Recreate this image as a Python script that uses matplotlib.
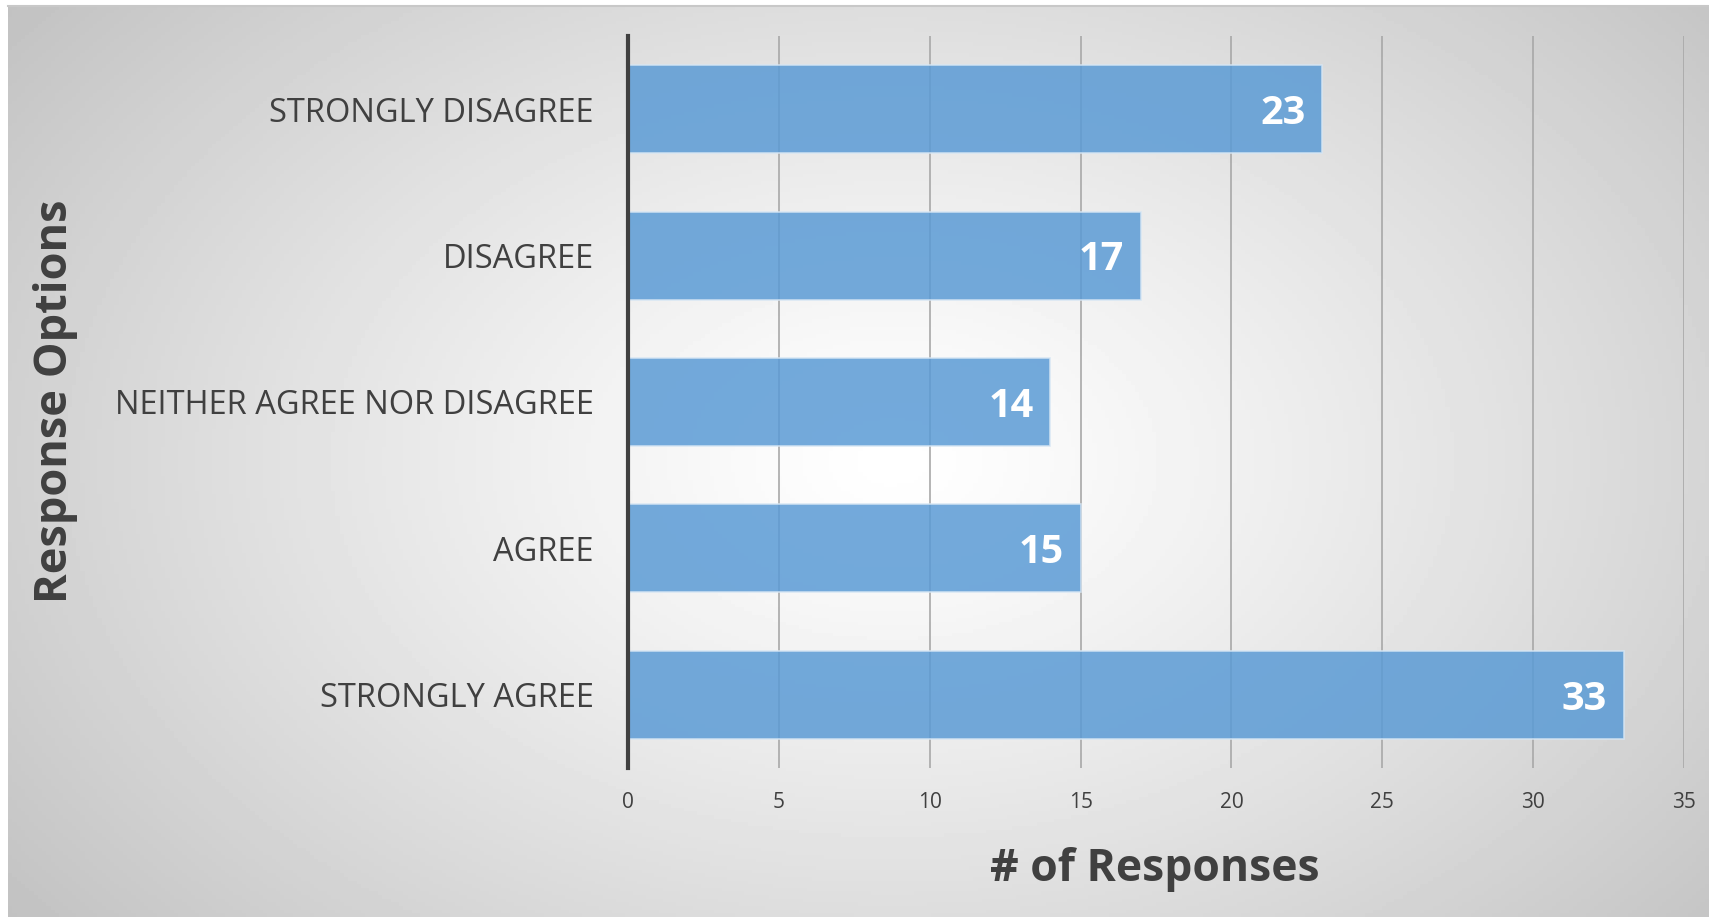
import numpy as np
import matplotlib
matplotlib.use("Agg")
import matplotlib.pyplot as plt

# dati
categorie = ["STRONGLY DISAGREE", "DISAGREE", "NEITHER AGREE NOR DISAGREE", "AGREE", "STRONGLY AGREE"]
risposte = [23, 17, 14, 15, 33]
xticks = [0, 5, 10, 15, 20, 25, 30, 35]

W, H = 1709, 917
fig = plt.figure(figsize=(W / 100, H / 100), dpi=100)
plt.rcParams['font.family'] = ['Open Sans', 'DejaVu Sans']

# sfondo con gradiente radiale (bianco al centro, grigio ai bordi)
bg = fig.add_axes([8 / W, 0, 1 - 8 / W, 1 - 6 / H])
bg.set_axis_off()
gx, gy = np.meshgrid(np.linspace(0, 1, 400), np.linspace(0, 1, 250))
r = np.sqrt(((gx - 0.52) / 0.6) ** 2 + ((gy - 0.5) / 0.75) ** 2)
r = np.clip(r / r.max(), 0, 1)
grigio = 1 - (1 - 0.76) * r ** 1.2
bg.imshow(grigio, cmap="gray", vmin=0, vmax=1, aspect="auto", extent=[0, 1, 0, 1])
fig.add_artist(plt.Line2D([8 / W, 1], [1 - 6 / H, 1 - 6 / H], color="#c8c8c8", lw=1.5,
                          transform=fig.transFigure))

ax = fig.add_axes([628 / W, 1 - 768 / H, (1684 - 628) / W, (768 - 36) / H])
ax.patch.set_alpha(0)
y = np.arange(len(categorie))
barre = ax.barh(y, risposte, height=0.6, color="#5b9bd5", alpha=0.85,
                edgecolor="#d6e6f4", linewidth=1.2, zorder=3)
ax.set_ylim(len(categorie) - 0.5, -0.5)
ax.set_xlim(0, 35)
ax.set_yticks(y)
ax.set_yticklabels(categorie, fontsize=23.5, color="#404040")
ax.set_xticks(xticks)
ax.set_xticklabels([str(t) for t in xticks], fontsize=15, color="#404040")
ax.tick_params(axis="y", length=0, pad=24.5)
ax.tick_params(axis="x", length=0, pad=17)
ax.grid(axis="x", color="#a8a8a8", lw=1.2, zorder=1)
for s in ["top", "right", "bottom"]:
    ax.spines[s].set_visible(False)
ax.spines["left"].set_color("#404040")
ax.spines["left"].set_linewidth(3)
ax.spines["left"].set_zorder(4)

for b, v in zip(barre, risposte):
    ax.text(v - 0.55, b.get_y() + b.get_height() / 2 + 0.03, str(v), ha="right", va="center",
            fontsize=28.5, fontweight="bold", color="white", zorder=5)

fig.text(56 / W, 1 - 401 / H, "Response Options", rotation=90, ha="center", va="center",
         fontsize=32.5, fontweight="bold", color="#404040")
fig.text(1155 / W, 1 - 870 / H, "# of Responses", ha="center", va="center",
         fontsize=32, fontweight="bold", color="#404040")

fig.savefig("out.png", dpi=100)
